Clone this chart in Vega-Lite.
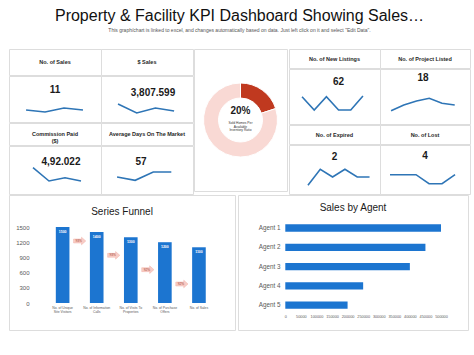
{
 "$schema": "https://vega.github.io/schema/vega-lite/v6.json",
 "padding": {"left": 8, "top": 7, "right": 0, "bottom": 0},
 "background": "white",
 "title": {"text": "Property & Facility KPI Dashboard Showing Sales…", "subtitle": "This graph/chart is linked to excel, and changes automatically based on data. Just left click on it and select \"Edit Data\".", "fontSize": 16, "fontWeight": "normal", "color": "#111111", "subtitleFontSize": 5, "subtitleColor": "#555555", "subtitlePadding": 4, "offset": 16, "anchor": "middle"},
 "config": {"font": "Liberation Sans", "view": {"stroke": "#dddddd", "fill": "white", "strokeWidth": 1}, "axis": {"labelOverlap": false}},
 "datasets": {
  "kpis": [
   {"kpi": "No. of Sales", "value": "11"},
   {"kpi": "$ Sales", "value": "3,807.599"},
   {"kpi": "Commission Paid\n($)", "value": "4,92.022"},
   {"kpi": "Average Days On The Market", "value": "57"},
   {"kpi": "No. of New Listings", "value": "62"},
   {"kpi": "No. of Project Listed", "value": "18"},
   {"kpi": "No. of Expired", "value": "2"},
   {"kpi": "No. of Lost", "value": "4"}
  ],
  "spark": [
   {"kpi": "No. of Sales", "t": 1, "v": 12}, {"kpi": "No. of Sales", "t": 2, "v": 10}, {"kpi": "No. of Sales", "t": 3, "v": 14}, {"kpi": "No. of Sales", "t": 4, "v": 12},
   {"kpi": "$ Sales", "t": 1, "v": 18}, {"kpi": "$ Sales", "t": 2, "v": 9}, {"kpi": "$ Sales", "t": 3, "v": 14}, {"kpi": "$ Sales", "t": 4, "v": 11},
   {"kpi": "Commission Paid\n($)", "t": 1, "v": 26.3}, {"kpi": "Commission Paid\n($)", "t": 2, "v": 13}, {"kpi": "Commission Paid\n($)", "t": 3, "v": 16.3}, {"kpi": "Commission Paid\n($)", "t": 4, "v": 13},
   {"kpi": "Average Days On The Market", "t": 1, "v": 17}, {"kpi": "Average Days On The Market", "t": 2, "v": 13.7}, {"kpi": "Average Days On The Market", "t": 3, "v": 22}, {"kpi": "Average Days On The Market", "t": 4, "v": 22},
   {"kpi": "No. of New Listings", "t": 1, "v": 27.3}, {"kpi": "No. of New Listings", "t": 2, "v": 14}, {"kpi": "No. of New Listings", "t": 3, "v": 27.3}, {"kpi": "No. of New Listings", "t": 4, "v": 14}, {"kpi": "No. of New Listings", "t": 5, "v": 14}, {"kpi": "No. of New Listings", "t": 6, "v": 28},
   {"kpi": "No. of Project Listed", "t": 1, "v": 13.3}, {"kpi": "No. of Project Listed", "t": 2, "v": 19}, {"kpi": "No. of Project Listed", "t": 3, "v": 23}, {"kpi": "No. of Project Listed", "t": 4, "v": 25.7}, {"kpi": "No. of Project Listed", "t": 5, "v": 20.7}, {"kpi": "No. of Project Listed", "t": 6, "v": 19},
   {"kpi": "No. of Expired", "t": 1, "v": 8.7}, {"kpi": "No. of Expired", "t": 2, "v": 24.7}, {"kpi": "No. of Expired", "t": 3, "v": 17}, {"kpi": "No. of Expired", "t": 4, "v": 24.7}, {"kpi": "No. of Expired", "t": 5, "v": 17}, {"kpi": "No. of Expired", "t": 6, "v": 17},
   {"kpi": "No. of Lost", "t": 1, "v": 19.3}, {"kpi": "No. of Lost", "t": 2, "v": 19.3}, {"kpi": "No. of Lost", "t": 3, "v": 19.3}, {"kpi": "No. of Lost", "t": 4, "v": 10.3}, {"kpi": "No. of Lost", "t": 5, "v": 10.3}, {"kpi": "No. of Lost", "t": 6, "v": 19.3}
  ],
  "donut": [
   {"part": "Sold", "idx": 1, "share": 20},
   {"part": "Remaining", "idx": 2, "share": 80}
  ],
  "donutText": [
   {"big": "20%", "small": "Sold Homes Per\nAvailable\nInventory Ratio"}
  ],
  "funnel": [
   {"stage": "No. of Unique\nSite Visitors", "count": 1500},
   {"stage": "No. of Information\nCalls", "count": 1400},
   {"stage": "No. of Visits To\nProperties", "count": 1300},
   {"stage": "No. of Purchase\nOffers", "count": 1200},
   {"stage": "No. of Sales", "count": 1100}
  ],
  "conv": [
   {"stage": "No. of Unique\nSite Visitors", "step": 1, "pct": "93%"},
   {"stage": "No. of Information\nCalls", "step": 2, "pct": "93%"},
   {"stage": "No. of Visits To\nProperties", "step": 3, "pct": "92%"},
   {"stage": "No. of Purchase\nOffers", "step": 4, "pct": "92%"}
  ],
  "agents": [
   {"agent": "Agent 1", "sales": 500000},
   {"agent": "Agent 2", "sales": 450000},
   {"agent": "Agent 3", "sales": 400000},
   {"agent": "Agent 4", "sales": 250000},
   {"agent": "Agent 5", "sales": 200000}
  ]
 },
 "spacing": -1,
 "vconcat": [
  {"spacing": 0, "hconcat": [
   {"spacing": -2, "hconcat": [
    {"spacing": -2, "vconcat": [
     {"spacing": 0, "bounds": "flush", "hconcat": [
      {"width": 92, "height": 26, "view": {"stroke": "#dddddd", "fill": "white"}, "data": {"name": "kpis"}, "transform": [{"filter": {"field": "kpi", "equal": "No. of Sales"}}], "mark": {"type": "text", "fontSize": 5.5, "fontWeight": "bold", "color": "#262626", "lineBreak": "\n", "lineHeight": 6.5}, "encoding": {"x": {"field": "kpi", "type": "nominal", "axis": null}, "y": {"field": "kpi", "type": "nominal", "axis": null}, "text": {"field": "kpi", "type": "nominal"}}},
      {"width": 92, "height": 26, "view": {"stroke": "#dddddd", "fill": "white"}, "data": {"name": "kpis"}, "transform": [{"filter": {"field": "kpi", "equal": "$ Sales"}}], "mark": {"type": "text", "fontSize": 5.5, "fontWeight": "bold", "color": "#262626", "lineBreak": "\n", "lineHeight": 6.5}, "encoding": {"x": {"field": "kpi", "type": "nominal", "axis": null}, "y": {"field": "kpi", "type": "nominal", "axis": null}, "text": {"field": "kpi", "type": "nominal"}}}
     ]},
     {"spacing": 0, "bounds": "flush", "hconcat": [
      {"width": 92, "height": 46, "layer": [
       {"data": {"name": "spark"}, "transform": [{"filter": {"field": "kpi", "equal": "No. of Sales"}}], "mark": {"type": "line", "color": "#2e75b6", "strokeWidth": 1.6}, "encoding": {"x": {"field": "t", "type": "quantitative", "scale": {"domain": [0.1, 4.95], "nice": false, "zero": false}, "axis": null}, "y": {"field": "v", "type": "quantitative", "scale": {"domain": [0, 46], "nice": false}, "axis": null}}},
       {"data": {"name": "kpis"}, "transform": [{"filter": {"field": "kpi", "equal": "No. of Sales"}}], "mark": {"type": "text", "fontSize": 10, "fontWeight": "bold", "color": "#1a1a1a", "dy": -9}, "encoding": {"text": {"field": "value", "type": "nominal"}}}
      ]},
      {"width": 92, "height": 46, "layer": [
       {"data": {"name": "spark"}, "transform": [{"filter": {"field": "kpi", "equal": "$ Sales"}}], "mark": {"type": "line", "color": "#2e75b6", "strokeWidth": 1.6}, "encoding": {"x": {"field": "t", "type": "quantitative", "scale": {"domain": [0.09, 5.01], "nice": false, "zero": false}, "axis": null}, "y": {"field": "v", "type": "quantitative", "scale": {"domain": [0, 46], "nice": false}, "axis": null}}},
       {"data": {"name": "kpis"}, "transform": [{"filter": {"field": "kpi", "equal": "$ Sales"}}], "mark": {"type": "text", "fontSize": 10, "fontWeight": "bold", "color": "#1a1a1a", "dy": -6, "dx": 6}, "encoding": {"text": {"field": "value", "type": "nominal"}}}
      ]}
     ]},
     {"spacing": 0, "bounds": "flush", "hconcat": [
      {"width": 92, "height": 22, "view": {"stroke": "#dddddd", "fill": "white"}, "data": {"name": "kpis"}, "transform": [{"filter": {"field": "kpi", "equal": "Commission Paid\n($)"}}], "mark": {"type": "text", "fontSize": 5.5, "fontWeight": "bold", "color": "#262626", "lineBreak": "\n", "lineHeight": 6.5}, "encoding": {"x": {"field": "kpi", "type": "nominal", "axis": null}, "y": {"field": "kpi", "type": "nominal", "axis": null}, "text": {"field": "kpi", "type": "nominal"}}},
      {"width": 92, "height": 22, "view": {"stroke": "#dddddd", "fill": "white"}, "data": {"name": "kpis"}, "transform": [{"filter": {"field": "kpi", "equal": "Average Days On The Market"}}], "mark": {"type": "text", "fontSize": 5.5, "fontWeight": "bold", "color": "#262626", "lineBreak": "\n", "lineHeight": 6.5}, "encoding": {"x": {"field": "kpi", "type": "nominal", "axis": null}, "y": {"field": "kpi", "type": "nominal", "axis": null}, "text": {"field": "kpi", "type": "nominal"}}}
     ]},
     {"spacing": 0, "bounds": "flush", "hconcat": [
      {"width": 92, "height": 48, "layer": [
       {"data": {"name": "spark"}, "transform": [{"filter": {"field": "kpi", "equal": "Commission Paid\n($)"}}], "mark": {"type": "line", "color": "#2e75b6", "strokeWidth": 1.6}, "encoding": {"x": {"field": "t", "type": "quantitative", "scale": {"domain": [-0.5, 5.25], "nice": false, "zero": false}, "axis": null}, "y": {"field": "v", "type": "quantitative", "scale": {"domain": [0, 48], "nice": false}, "axis": null}}},
       {"data": {"name": "kpis"}, "transform": [{"filter": {"field": "kpi", "equal": "Commission Paid\n($)"}}], "mark": {"type": "text", "fontSize": 10, "fontWeight": "bold", "color": "#1a1a1a", "dy": -8, "dx": 6}, "encoding": {"text": {"field": "value", "type": "nominal"}}}
      ]},
      {"width": 92, "height": 48, "layer": [
       {"data": {"name": "spark"}, "transform": [{"filter": {"field": "kpi", "equal": "Average Days On The Market"}}], "mark": {"type": "line", "color": "#2e75b6", "strokeWidth": 1.6}, "encoding": {"x": {"field": "t", "type": "quantitative", "scale": {"domain": [0.11, 5.2], "nice": false, "zero": false}, "axis": null}, "y": {"field": "v", "type": "quantitative", "scale": {"domain": [0, 48], "nice": false}, "axis": null}}},
       {"data": {"name": "kpis"}, "transform": [{"filter": {"field": "kpi", "equal": "Average Days On The Market"}}], "mark": {"type": "text", "fontSize": 10, "fontWeight": "bold", "color": "#1a1a1a", "dy": -8, "dx": -6}, "encoding": {"text": {"field": "value", "type": "nominal"}}}
      ]}
     ]}
    ]},
    {"width": 93, "height": 142, "view": {"stroke": "#dddddd", "fill": "white"}, "layer": [
     {"data": {"name": "donut"}, "mark": {"type": "arc", "innerRadius": 22, "outerRadius": 37, "stroke": "white", "strokeWidth": 1}, "encoding": {"theta": {"field": "share", "type": "quantitative", "stack": true}, "order": {"field": "idx", "type": "quantitative"}, "color": {"field": "part", "type": "nominal", "scale": {"domain": ["Sold", "Remaining"], "range": ["#c0391f", "#f9d9d4"]}, "legend": null}}},
     {"data": {"name": "donutText"}, "mark": {"type": "text", "fontSize": 10, "fontWeight": "bold", "color": "#1a1a1a", "dy": -9}, "encoding": {"x": {"field": "big", "type": "nominal", "axis": null}, "y": {"field": "big", "type": "nominal", "axis": null}, "text": {"field": "big", "type": "nominal"}}},
     {"data": {"name": "donutText"}, "mark": {"type": "text", "fontSize": 3.3, "color": "#333333", "baseline": "top", "lineBreak": "\n", "lineHeight": 3.5, "dy": 1}, "encoding": {"x": {"field": "big", "type": "nominal", "axis": null}, "y": {"field": "big", "type": "nominal", "axis": null}, "text": {"field": "small", "type": "nominal"}}}
    ]}
   ]},
   {"spacing": -2, "vconcat": [
    {"spacing": 0, "bounds": "flush", "hconcat": [
     {"width": 91, "height": 19, "view": {"stroke": "#dddddd", "fill": "white"}, "data": {"name": "kpis"}, "transform": [{"filter": {"field": "kpi", "equal": "No. of New Listings"}}], "mark": {"type": "text", "fontSize": 5.5, "fontWeight": "bold", "color": "#262626"}, "encoding": {"x": {"field": "kpi", "type": "nominal", "axis": null}, "y": {"field": "kpi", "type": "nominal", "axis": null}, "text": {"field": "kpi", "type": "nominal"}}},
     {"width": 90, "height": 19, "view": {"stroke": "#dddddd", "fill": "white"}, "data": {"name": "kpis"}, "transform": [{"filter": {"field": "kpi", "equal": "No. of Project Listed"}}], "mark": {"type": "text", "fontSize": 5.5, "fontWeight": "bold", "color": "#262626"}, "encoding": {"x": {"field": "kpi", "type": "nominal", "axis": null}, "y": {"field": "kpi", "type": "nominal", "axis": null}, "text": {"field": "kpi", "type": "nominal"}}}
    ]},
    {"spacing": 0, "bounds": "flush", "hconcat": [
     {"width": 91, "height": 55, "layer": [
      {"data": {"name": "spark"}, "transform": [{"filter": {"field": "kpi", "equal": "No. of New Listings"}}], "mark": {"type": "line", "color": "#2e75b6", "strokeWidth": 1.6}, "encoding": {"x": {"field": "t", "type": "quantitative", "scale": {"domain": [-0.07, 7.4], "nice": false, "zero": false}, "axis": null}, "y": {"field": "v", "type": "quantitative", "scale": {"domain": [0, 55], "nice": false}, "axis": null}}},
      {"data": {"name": "kpis"}, "transform": [{"filter": {"field": "kpi", "equal": "No. of New Listings"}}], "mark": {"type": "text", "fontSize": 10, "fontWeight": "bold", "color": "#1a1a1a", "dy": -15, "dx": 4}, "encoding": {"text": {"field": "value", "type": "nominal"}}}
     ]},
     {"width": 90, "height": 55, "layer": [
      {"data": {"name": "spark"}, "transform": [{"filter": {"field": "kpi", "equal": "No. of Project Listed"}}], "mark": {"type": "line", "color": "#2e75b6", "strokeWidth": 1.6}, "encoding": {"x": {"field": "t", "type": "quantitative", "scale": {"domain": [0.13, 7.2], "nice": false, "zero": false}, "axis": null}, "y": {"field": "v", "type": "quantitative", "scale": {"domain": [0, 55], "nice": false}, "axis": null}}},
      {"data": {"name": "kpis"}, "transform": [{"filter": {"field": "kpi", "equal": "No. of Project Listed"}}], "mark": {"type": "text", "fontSize": 10, "fontWeight": "bold", "color": "#1a1a1a", "dy": -19, "dx": -2}, "encoding": {"text": {"field": "value", "type": "nominal"}}}
     ]}
    ]},
    {"spacing": 0, "bounds": "flush", "hconcat": [
     {"width": 91, "height": 19, "view": {"stroke": "#dddddd", "fill": "white"}, "data": {"name": "kpis"}, "transform": [{"filter": {"field": "kpi", "equal": "No. of Expired"}}], "mark": {"type": "text", "fontSize": 5.5, "fontWeight": "bold", "color": "#262626"}, "encoding": {"x": {"field": "kpi", "type": "nominal", "axis": null}, "y": {"field": "kpi", "type": "nominal", "axis": null}, "text": {"field": "kpi", "type": "nominal"}}},
     {"width": 90, "height": 19, "view": {"stroke": "#dddddd", "fill": "white"}, "data": {"name": "kpis"}, "transform": [{"filter": {"field": "kpi", "equal": "No. of Lost"}}], "mark": {"type": "text", "fontSize": 5.5, "fontWeight": "bold", "color": "#262626"}, "encoding": {"x": {"field": "kpi", "type": "nominal", "axis": null}, "y": {"field": "kpi", "type": "nominal", "axis": null}, "text": {"field": "kpi", "type": "nominal"}}}
    ]},
    {"spacing": 0, "bounds": "flush", "hconcat": [
     {"width": 91, "height": 49, "layer": [
      {"data": {"name": "spark"}, "transform": [{"filter": {"field": "kpi", "equal": "No. of Expired"}}], "mark": {"type": "line", "color": "#2e75b6", "strokeWidth": 1.6}, "encoding": {"x": {"field": "t", "type": "quantitative", "scale": {"domain": [-0.54, 6.85], "nice": false, "zero": false}, "axis": null}, "y": {"field": "v", "type": "quantitative", "scale": {"domain": [0, 49], "nice": false}, "axis": null}}},
      {"data": {"name": "kpis"}, "transform": [{"filter": {"field": "kpi", "equal": "No. of Expired"}}], "mark": {"type": "text", "fontSize": 10, "fontWeight": "bold", "color": "#1a1a1a", "dy": -13}, "encoding": {"text": {"field": "value", "type": "nominal"}}}
     ]},
     {"width": 90, "height": 49, "layer": [
      {"data": {"name": "spark"}, "transform": [{"filter": {"field": "kpi", "equal": "No. of Lost"}}], "mark": {"type": "line", "color": "#2e75b6", "strokeWidth": 1.6}, "encoding": {"x": {"field": "t", "type": "quantitative", "scale": {"domain": [0.23, 7.15], "nice": false, "zero": false}, "axis": null}, "y": {"field": "v", "type": "quantitative", "scale": {"domain": [0, 49], "nice": false}, "axis": null}}},
      {"data": {"name": "kpis"}, "transform": [{"filter": {"field": "kpi", "equal": "No. of Lost"}}], "mark": {"type": "text", "fontSize": 10, "fontWeight": "bold", "color": "#1a1a1a", "dy": -14}, "encoding": {"text": {"field": "value", "type": "nominal"}}}
     ]}
    ]}
   ]}
  ]},
  {"spacing": 3, "bounds": "flush", "hconcat": [
   {"width": 226, "height": 135,
    "title": {"text": "Series Funnel", "fontSize": 10, "fontWeight": "normal", "color": "#1a1a1a", "offset": -22},
    "resolve": {"scale": {"y": "independent"}},
    "layer": [
     {"data": {"name": "funnel"}, "layer": [
      {"mark": {"type": "bar", "color": "#1c75d0", "width": {"band": 0.4}},
       "encoding": {
        "x": {"field": "stage", "type": "nominal", "sort": null, "scale": {"domain": ["No. of Unique\nSite Visitors", "No. of Information\nCalls", "No. of Visits To\nProperties", "No. of Purchase\nOffers", "No. of Sales"], "paddingInner": 0, "paddingOuter": 0.816, "align": 0.658}, "axis": {"title": null, "orient": "bottom", "offset": -27, "ticks": false, "domain": false, "labelAngle": 0, "labelFontSize": 3.4, "labelColor": "#595959", "labelPadding": 2, "labelLineHeight": 4.5, "labelOverlap": false, "labelExpr": "split(datum.label, '\\n')"}},
        "y": {"field": "count", "type": "quantitative", "scale": {"domain": [-533, 2132], "nice": false, "zero": false}, "axis": {"title": null, "values": [0, 300, 600, 900, 1200, 1500], "format": "d", "offset": -22, "ticks": false, "domain": false, "grid": false, "labelFontSize": 6, "labelColor": "#595959", "labelPadding": 2, "labelOverlap": false}}
       }},
      {"mark": {"type": "text", "fontSize": 3.5, "color": "white", "fontWeight": "bold", "baseline": "middle", "dy": 5},
       "encoding": {
        "x": {"field": "stage", "type": "nominal", "sort": null},
        "y": {"field": "count", "type": "quantitative", "axis": {"title": null, "values": [0, 300, 600, 900, 1200, 1500], "format": "d", "offset": -22, "ticks": false, "domain": false, "grid": false, "labelFontSize": 6, "labelColor": "#595959", "labelPadding": 2, "labelOverlap": false}},
        "text": {"field": "count", "type": "quantitative", "format": "d"}
       }}
     ]},
     {"data": {"name": "conv"}, "layer": [
      {"mark": {"type": "point", "shape": "M-1,-0.32L0.3,-0.32L0.3,-0.62L1,0L0.3,0.62L0.3,0.32L-1,0.32Z", "filled": true, "color": "#f8cdc6", "stroke": "#f0b3aa", "strokeWidth": 0.5, "opacity": 1, "size": 150},
       "encoding": {
        "x": {"field": "stage", "type": "nominal", "sort": null, "bandPosition": 1},
        "y": {"field": "step", "type": "quantitative", "scale": {"domain": [-2.21, 7.21], "reverse": true, "nice": false, "zero": false}, "axis": null}
       }},
      {"mark": {"type": "text", "fontSize": 3.2, "color": "#a03a2c", "dx": -1},
       "encoding": {
        "x": {"field": "stage", "type": "nominal", "sort": null, "bandPosition": 1},
        "y": {"field": "step", "type": "quantitative", "axis": null},
        "text": {"field": "pct", "type": "nominal"}
       }}
     ]}
    ]},
   {"width": 230, "height": 135,
    "title": {"text": "Sales by Agent", "fontSize": 10, "fontWeight": "normal", "color": "#1a1a1a", "offset": -18},
    "data": {"name": "agents"},
    "mark": {"type": "bar", "color": "#1c75d0", "height": {"band": 0.38}},
    "encoding": {
     "y": {"field": "agent", "type": "nominal", "sort": null, "scale": {"paddingInner": 0, "paddingOuter": 1.287, "align": 0.606}, "axis": {"title": null, "offset": -47, "ticks": false, "domain": false, "labelFontSize": 6.3, "labelColor": "#595959", "labelPadding": 5}},
     "x": {"field": "sales", "type": "quantitative", "scale": {"domain": [-151900, 586700], "nice": false, "zero": false}, "axis": {"title": null, "values": [0, 50000, 100000, 150000, 200000, 250000, 300000, 350000, 400000, 450000, 500000], "format": "d", "offset": -18, "ticks": false, "domain": false, "grid": false, "labelFontSize": 3.8, "labelColor": "#595959", "labelPadding": 2, "labelOverlap": false}}
    }}
  ]}
 ]
}
